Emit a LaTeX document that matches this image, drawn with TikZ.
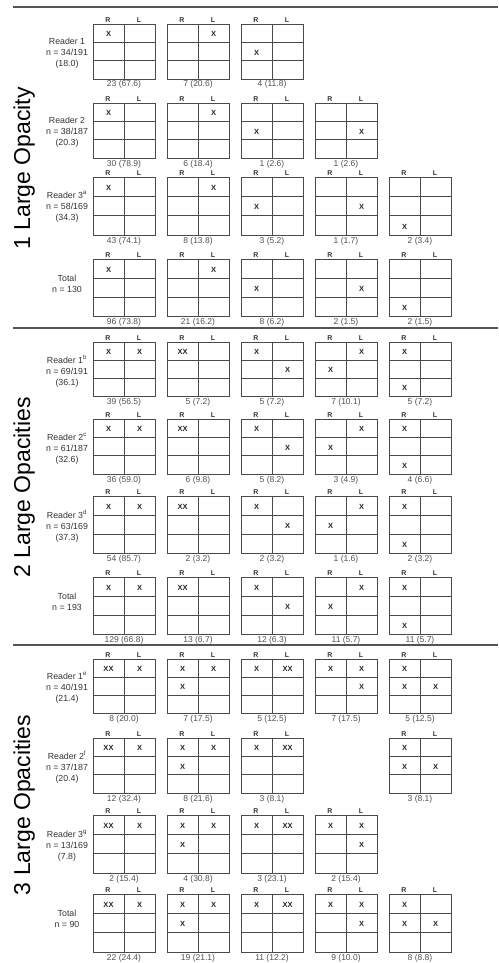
\documentclass[tikz,border=0pt]{standalone}
\usepackage{fontspec}
\setmainfont{Liberation Sans}
\definecolor{linegray}{HTML}{4A4A4A}
\definecolor{rulegray}{HTML}{555555}
\definecolor{textgray}{HTML}{333333}
\definecolor{capgray}{HTML}{505050}
\tikzset{
  gridbox/.style={draw=linegray, line width=0.8pt, minimum width=62pt, inner sep=0pt, outer sep=0pt},
  gridline/.style={draw=linegray, line width=0.8pt},
  rl/.style={font=\fontsize{7}{8}\selectfont\bfseries, text=textgray, anchor=base, inner sep=0pt},
  xmark/.style={font=\fontsize{7.5}{8}\selectfont\bfseries, text=black!85, inner sep=0pt},
  capt/.style={font=\fontsize{8.5}{10}\selectfont, text=capgray, anchor=base, inner sep=0pt},
  reader/.style={font=\fontsize{8.8}{11}\selectfont, text=textgray, align=center, inner sep=0pt},
  seclabel/.style={font=\fontsize{23}{26}\selectfont, text=black, rotate=90, anchor=base, inner sep=0pt},
  seprule/.style={draw=rulegray, line width=1.4pt}
}
% name, column, top, height, marks (macro), caption
\newcommand\rlgrid[6]{%
  \pgfmathsetmacro\gx{93+74*(#2-1)}%
  \node[gridbox, minimum height=#4pt, anchor=north west] (#1) at (\gx,#3) {};
  \draw[gridline] ({\gx+31},#3) -- ({\gx+31},{#3+#4});
  \draw[gridline] (\gx,{#3+#4/3}) -- ({\gx+62},{#3+#4/3});
  \draw[gridline] (\gx,{#3+2*#4/3}) -- ({\gx+62},{#3+2*#4/3});
  \node[rl] (#1-R) at ({\gx+15},{#3-1.5}) {R};
  \node[rl] (#1-L) at ({\gx+46},{#3-1.5}) {L};
  \foreach \r/\c/\m [count=\k] in #5 {\node[xmark] (#1-m\k) at ({\gx+15.5+31*(\c-1)},{#3+#4*(2*\r-1)/6+1.2}) {\m};}
  \node[capt] (#1-n) at ({\gx+31},{#3+#4+8}) {#6};
}
% patterns
\def\pA{1/1/X}
\def\pB{1/2/X}
\def\pC{2/1/X}
\def\pD{2/2/X}
\def\pE{3/1/X}
\def\pF{1/1/X,1/2/X}
\def\pG{1/1/XX}
\def\pH{1/1/X,2/2/X}
\def\pI{1/2/X,2/1/X}
\def\pJ{1/1/X,3/1/X}
\def\pK{1/1/XX,1/2/X}
\def\pM{1/1/X,1/2/X,2/1/X}
\def\pN{1/1/X,1/2/XX}
\def\pO{1/1/X,1/2/X,2/2/X}
\def\pP{1/1/X,2/1/X,2/2/X}
\begin{document}
\begin{tikzpicture}[x=1pt,y=-1pt]
\useasboundingbox (0,0) rectangle (498,963);
% rules
\coordinate (r1a) at (13,7);   \coordinate (r1b) at (498,7);
\coordinate (r2a) at (13,328); \coordinate (r2b) at (498,328);
\coordinate (r3a) at (13,645); \coordinate (r3b) at (498,645);
\draw[seprule] (r1a) -- (r1b);
\draw[seprule] (r2a) -- (r2b);
\draw[seprule] (r3a) -- (r3b);
% section labels
\node[seclabel] (sec1) at (30,168.5) {1 Large Opacity};
\node[seclabel] (sec2) at (30,487.5) {2 Large Opacities};
\node[seclabel] (sec3) at (30,805) {3 Large Opacities};

% ===== Section 1 =====
\node[reader] (s1r1) at (67,53.5) {Reader 1\\n = 34/191\\(18.0)};
\rlgrid{s1r1c1}{1}{24}{55}{\pA}{23 (67.6)}
\rlgrid{s1r1c2}{2}{24}{55}{\pB}{7 (20.6)}
\rlgrid{s1r1c3}{3}{24}{55}{\pC}{4 (11.8)}

\node[reader] (s1r2) at (67,132.5) {Reader 2\\n = 38/187\\(20.3)};
\rlgrid{s1r2c1}{1}{103}{55}{\pA}{30 (78.9)}
\rlgrid{s1r2c2}{2}{103}{55}{\pB}{6 (18.4)}
\rlgrid{s1r2c3}{3}{103}{55}{\pC}{1 (2.6)}
\rlgrid{s1r2c4}{4}{103}{55}{\pD}{1 (2.6)}

\node[reader] (s1r3) at (67,207) {Reader 3\textsuperscript{a}\\n = 58/169\\(34.3)};
\rlgrid{s1r3c1}{1}{177}{58}{\pA}{43 (74.1)}
\rlgrid{s1r3c2}{2}{177}{58}{\pB}{8 (13.8)}
\rlgrid{s1r3c3}{3}{177}{58}{\pC}{3 (5.2)}
\rlgrid{s1r3c4}{4}{177}{58}{\pD}{1 (1.7)}
\rlgrid{s1r3c5}{5}{177}{58}{\pE}{2 (3.4)}

\node[reader] (s1t) at (67,283.5) {Total\\n = 130};
\rlgrid{s1tc1}{1}{259}{57}{\pA}{96 (73.8)}
\rlgrid{s1tc2}{2}{259}{57}{\pB}{21 (16.2)}
\rlgrid{s1tc3}{3}{259}{57}{\pC}{8 (6.2)}
\rlgrid{s1tc4}{4}{259}{57}{\pD}{2 (1.5)}
\rlgrid{s1tc5}{5}{259}{57}{\pE}{2 (1.5)}

% ===== Section 2 =====
\node[reader] (s2r1) at (67,371) {Reader 1\textsuperscript{b}\\n = 69/191\\(36.1)};
\rlgrid{s2r1c1}{1}{342}{54}{\pF}{39 (56.5)}
\rlgrid{s2r1c2}{2}{342}{54}{\pG}{5 (7.2)}
\rlgrid{s2r1c3}{3}{342}{54}{\pH}{5 (7.2)}
\rlgrid{s2r1c4}{4}{342}{54}{\pI}{7 (10.1)}
\rlgrid{s2r1c5}{5}{342}{54}{\pJ}{5 (7.2)}

\node[reader] (s2r2) at (67,448.5) {Reader 2\textsuperscript{c}\\n = 61/187\\(32.6)};
\rlgrid{s2r2c1}{1}{419}{55}{\pF}{36 (59.0)}
\rlgrid{s2r2c2}{2}{419}{55}{\pG}{6 (9.8)}
\rlgrid{s2r2c3}{3}{419}{55}{\pH}{5 (8.2)}
\rlgrid{s2r2c4}{4}{419}{55}{\pI}{3 (4.9)}
\rlgrid{s2r2c5}{5}{419}{55}{\pJ}{4 (6.6)}

\node[reader] (s2r3) at (67,526) {Reader 3\textsuperscript{d}\\n = 63/169\\(37.3)};
\rlgrid{s2r3c1}{1}{496}{57}{\pF}{54 (85.7)}
\rlgrid{s2r3c2}{2}{496}{57}{\pG}{2 (3.2)}
\rlgrid{s2r3c3}{3}{496}{57}{\pH}{2 (3.2)}
\rlgrid{s2r3c4}{4}{496}{57}{\pI}{1 (1.6)}
\rlgrid{s2r3c5}{5}{496}{57}{\pJ}{2 (3.2)}

\node[reader] (s2t) at (67,601.5) {Total\\n = 193};
\rlgrid{s2tc1}{1}{577}{57}{\pF}{129 (66.8)}
\rlgrid{s2tc2}{2}{577}{57}{\pG}{13 (6.7)}
\rlgrid{s2tc3}{3}{577}{57}{\pH}{12 (6.3)}
\rlgrid{s2tc4}{4}{577}{57}{\pI}{11 (5.7)}
\rlgrid{s2tc5}{5}{577}{57}{\pJ}{11 (5.7)}

% ===== Section 3 =====
\node[reader] (s3r1) at (67,688) {Reader 1\textsuperscript{e}\\n = 40/191\\(21.4)};
\rlgrid{s3r1c1}{1}{659}{54}{\pK}{8 (20.0)}
\rlgrid{s3r1c2}{2}{659}{54}{\pM}{7 (17.5)}
\rlgrid{s3r1c3}{3}{659}{54}{\pN}{5 (12.5)}
\rlgrid{s3r1c4}{4}{659}{54}{\pO}{7 (17.5)}
\rlgrid{s3r1c5}{5}{659}{54}{\pP}{5 (12.5)}

\node[reader] (s3r2) at (67,767.5) {Reader 2\textsuperscript{f}\\n = 37/187\\(20.4)};
\rlgrid{s3r2c1}{1}{738}{55}{\pK}{12 (32.4)}
\rlgrid{s3r2c2}{2}{738}{55}{\pM}{8 (21.6)}
\rlgrid{s3r2c3}{3}{738}{55}{\pN}{3 (8.1)}
\rlgrid{s3r2c5}{5}{738}{55}{\pP}{3 (8.1)}

\node[reader] (s3r3) at (67,846) {Reader 3\textsuperscript{g}\\n = 13/169\\(7.8)};
\rlgrid{s3r3c1}{1}{815}{58}{\pK}{2 (15.4)}
\rlgrid{s3r3c2}{2}{815}{58}{\pM}{4 (30.8)}
\rlgrid{s3r3c3}{3}{815}{58}{\pN}{3 (23.1)}
\rlgrid{s3r3c4}{4}{815}{58}{\pO}{2 (15.4)}

\node[reader] (s3t) at (67,919) {Total\\n = 90};
\rlgrid{s3tc1}{1}{894}{58}{\pK}{22 (24.4)}
\rlgrid{s3tc2}{2}{894}{58}{\pM}{19 (21.1)}
\rlgrid{s3tc3}{3}{894}{58}{\pN}{11 (12.2)}
\rlgrid{s3tc4}{4}{894}{58}{\pO}{9 (10.0)}
\rlgrid{s3tc5}{5}{894}{58}{\pP}{8 (8.8)}
\end{tikzpicture}
\end{document}
